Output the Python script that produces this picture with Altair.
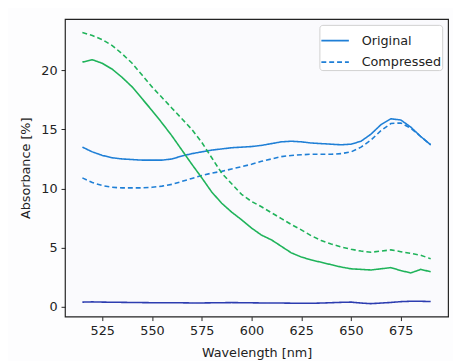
import altair as alt
import pandas as pd

wavelength = list(range(515, 691, 5))

blue_original = [13.5, 13.1, 12.8, 12.6, 12.5, 12.45, 12.4, 12.4, 12.4, 12.5, 12.75, 12.95,
                 13.1, 13.25, 13.35, 13.45, 13.5, 13.55, 13.65, 13.8, 13.95, 14.0, 13.95, 13.85,
                 13.8, 13.75, 13.7, 13.75, 14.0, 14.6, 15.4, 15.9, 15.8, 15.2, 14.4, 13.7]
blue_compressed = [10.9, 10.5, 10.25, 10.1, 10.05, 10.05, 10.05, 10.1, 10.2, 10.35, 10.6, 10.85,
                   11.1, 11.3, 11.45, 11.65, 11.85, 12.05, 12.3, 12.5, 12.7, 12.8, 12.85, 12.9,
                   12.9, 12.9, 12.95, 13.1, 13.5, 14.1, 14.9, 15.5, 15.55, 15.1, 14.4, 13.7]
green_original = [20.7, 20.9, 20.6, 20.1, 19.4, 18.6, 17.6, 16.6, 15.55, 14.45, 13.25, 12.05,
                  10.9, 9.7, 8.75, 8.0, 7.35, 6.65, 6.05, 5.65, 5.1, 4.55, 4.2, 3.95,
                  3.75, 3.55, 3.35, 3.2, 3.15, 3.1, 3.2, 3.3, 3.05, 2.85, 3.15, 2.95]
green_compressed = [23.2, 22.95, 22.6, 22.1, 21.4, 20.6, 19.6, 18.6, 17.7, 16.8, 15.9, 15.0,
                    13.9, 12.6, 11.3, 10.4, 9.5, 8.9, 8.45, 7.95, 7.45, 6.95, 6.5, 6.0,
                    5.6, 5.3, 5.05, 4.85, 4.7, 4.6, 4.7, 4.8, 4.65, 4.5, 4.35, 4.05]
navy_original = [0.38, 0.4, 0.38, 0.37, 0.36, 0.35, 0.34, 0.33, 0.33, 0.32, 0.32, 0.31,
                 0.31, 0.32, 0.33, 0.34, 0.33, 0.32, 0.31, 0.31, 0.3, 0.29, 0.28, 0.28,
                 0.3, 0.33, 0.36, 0.38, 0.3, 0.25, 0.3, 0.35, 0.42, 0.45, 0.45, 0.43]

series = [
    ("blue_o", "Original", "#1f7fd6", blue_original),
    ("blue_c", "Compressed", "#1f7fd6", blue_compressed),
    ("green_o", "Original", "#1fb35a", green_original),
    ("green_c", "Compressed", "#1fb35a", green_compressed),
    ("navy_o", "Original", "#2c3cb0", navy_original),
]

rows = []
for name, style, color, vals in series:
    for w, v in zip(wavelength, vals):
        rows.append({"series": name, "style": style, "color": color,
                     "wavelength": w, "absorbance": v})
df = pd.DataFrame(rows)

chart = alt.Chart(df).mark_line(strokeWidth=1.6).encode(
    x=alt.X("wavelength:Q", title="Wavelength [nm]",
            scale=alt.Scale(domain=[506.25, 698.75], nice=False, zero=False),
            axis=alt.Axis(values=[525, 550, 575, 600, 625, 650, 675], grid=False,
                          tickSize=4, labelPadding=4, titlePadding=10)),
    y=alt.Y("absorbance:Q", title="Absorbance [%]",
            scale=alt.Scale(domain=[-0.85, 24.35], nice=False, zero=False),
            axis=alt.Axis(values=[0, 5, 10, 15, 20], grid=False,
                          tickSize=4, labelPadding=4, titlePadding=9)),
    color=alt.Color("color:N", scale=None, legend=None),
    strokeDash=alt.StrokeDash("style:N",
                              scale=alt.Scale(domain=["Original", "Compressed"],
                                              range=[[1, 0], [5, 3]]),
                              legend=alt.Legend(title=None, orient="top-right",
                                                symbolStrokeColor="#1f7fd6",
                                                symbolType="stroke",
                                                symbolSize=784,
                                                symbolStrokeWidth=1.8,
                                                labelFontSize=13,
                                                labelFont="DejaVu Sans",
                                                labelColor="#222",
                                                strokeColor="#d0d0d0",
                                                fillColor="white",
                                                padding=1,
                                                cornerRadius=3,
                                                rowPadding=-9,
                                                labelOffset=12,
                                                offset=6)),
    detail="series:N",
).properties(
    width=390, height=303,
    autosize=alt.AutoSizeParams(type="none"),
    padding={"left": 58, "top": 8, "right": 5, "bottom": 44},
    background="#fdfdfe",
).configure_view(
    stroke="#222", strokeWidth=1.2, fill="#fafafd"
).configure_axis(
    labelFont="DejaVu Sans", titleFont="DejaVu Sans",
    labelFontSize=13, titleFontSize=13, titleFontWeight="normal",
    labelColor="#222", titleColor="#222", tickColor="#222", domain=False,
)

chart.save("out.html", embed_options={"renderer": "svg", "actions": False})
